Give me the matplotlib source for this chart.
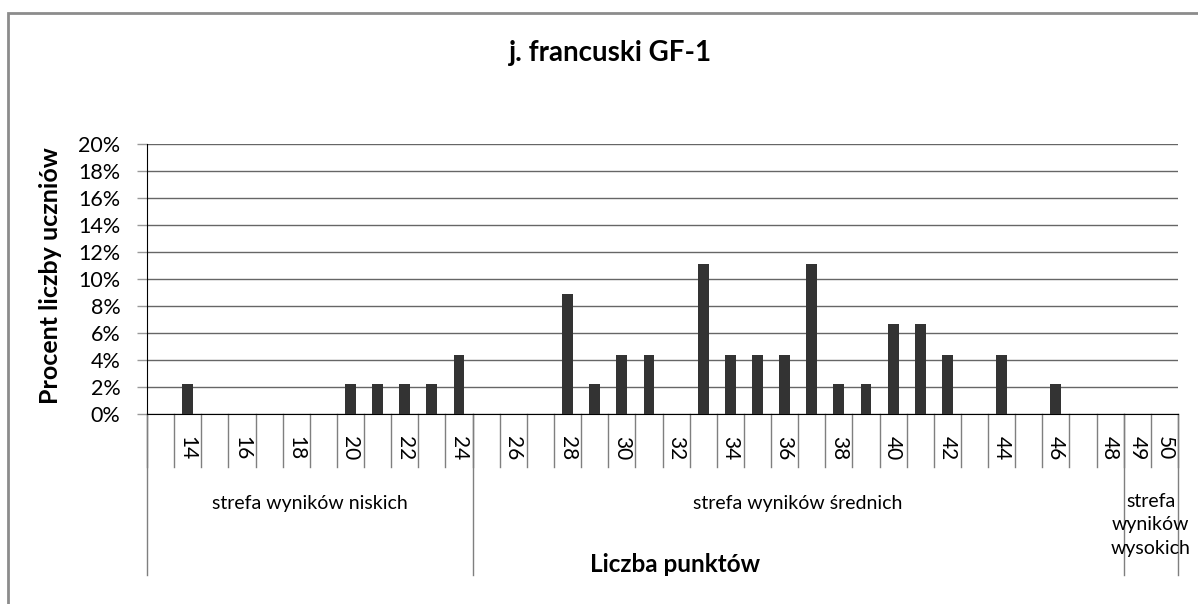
import matplotlib.pyplot as plt
import matplotlib.patches as mpatches

# data
points = list(range(13, 51))
percent = [0, 2.2, 0, 0, 0, 0, 0, 2.2, 2.2, 2.2, 2.2, 4.4,
           0, 0, 0, 8.9, 2.2, 4.4, 4.4, 0, 11.1, 4.4, 4.4, 4.4, 11.1,
           2.2, 2.2, 6.7, 6.7, 4.4, 0, 4.4, 0, 2.2, 0, 0,
           0, 0]
tick_labels = ["", "14", "", "16", "", "18", "", "20", "", "22", "", "24",
               "", "26", "", "28", "", "30", "", "32", "", "34", "", "36", "", "38",
               "", "40", "", "42", "", "44", "", "46", "", "48",
               "49", "50"]
groups = ["strefa wyników niskich", "strefa wyników średnich", "strefa\nwyników\nwysokich"]
group_sizes = [12, 24, 2]

plt.rcParams['font.family'] = ['Lato', 'DejaVu Sans']

fig = plt.figure(figsize=(11.98, 6.04), dpi=100)
ax = fig.add_axes([147 / 1198, 190 / 604, 1031 / 1198, 270 / 604])

x = list(range(len(points)))
ax.bar(x, percent, width=0.4, color='#333333', zorder=3)

ax.set_xlim(-0.5, len(points) - 0.5)
ax.set_ylim(0, 20)
ax.set_yticks(range(0, 21, 2))
ax.set_yticklabels([f"{v}%" for v in range(0, 21, 2)], fontsize=15.5)
ax.yaxis.grid(True, color='#666666', linewidth=1)
ax.set_axisbelow(True)
ax.tick_params(axis='y', length=7, width=1, color='#999999', pad=12)
ax.set_xticks([])
for s in ['top', 'right']:
    ax.spines[s].set_visible(False)
ax.spines['left'].set_color('black')
ax.spines['bottom'].set_color('black')

trans = ax.get_xaxis_transform()
tick_bottom = -53 / 270
group_bottom = -161 / 270

# category separators and labels
for i in range(len(points) + 1):
    ax.plot([i - 0.5, i - 0.5], [0, tick_bottom], transform=trans,
            color='#7f7f7f', linewidth=1, clip_on=False)
for i, lab in enumerate(tick_labels):
    if lab:
        ax.text(i, -22 / 270, lab, transform=trans, rotation=-90,
                ha='center', va='top', fontsize=15)

# group separators and names
start = 0
ax.plot([-0.5, -0.5], [0, group_bottom], transform=trans, color='#7f7f7f',
        linewidth=1, clip_on=False)
for name, size in zip(groups, group_sizes):
    end = start + size
    ax.plot([end - 0.5, end - 0.5], [0, group_bottom], transform=trans,
            color='#7f7f7f', linewidth=1, clip_on=False)
    center = (start + end - 1) / 2
    if size > 2:
        ax.text(center, -89 / 270, name, transform=trans, ha='center',
                va='center', fontsize=14)
    else:
        ax.text(center, -79 / 270, name, transform=trans, ha='center',
                va='top', fontsize=14, linespacing=1.45)
    start = end

fig.text(675 / 1198, 1 - 565 / 604, "Liczba punktów", ha='center', va='center',
         fontsize=17.5, fontweight='bold')
fig.text(51 / 1198, 1 - 276 / 604, "Procent liczby uczniów", ha='center',
         va='center', rotation=90, fontsize=18, fontweight='bold')
fig.text(610 / 1198, 1 - 53 / 604, "j. francuski GF-1", ha='center',
         va='center', fontsize=20, fontweight='bold')

# outer chart border
fig.patches.append(mpatches.Rectangle((8 / 1198, -0.05), 1.2, 1 - 13 / 604 + 0.05,
                                      transform=fig.transFigure, fill=False,
                                      edgecolor='#8c8c8c', linewidth=2))

fig.savefig("out.png", dpi=100)
